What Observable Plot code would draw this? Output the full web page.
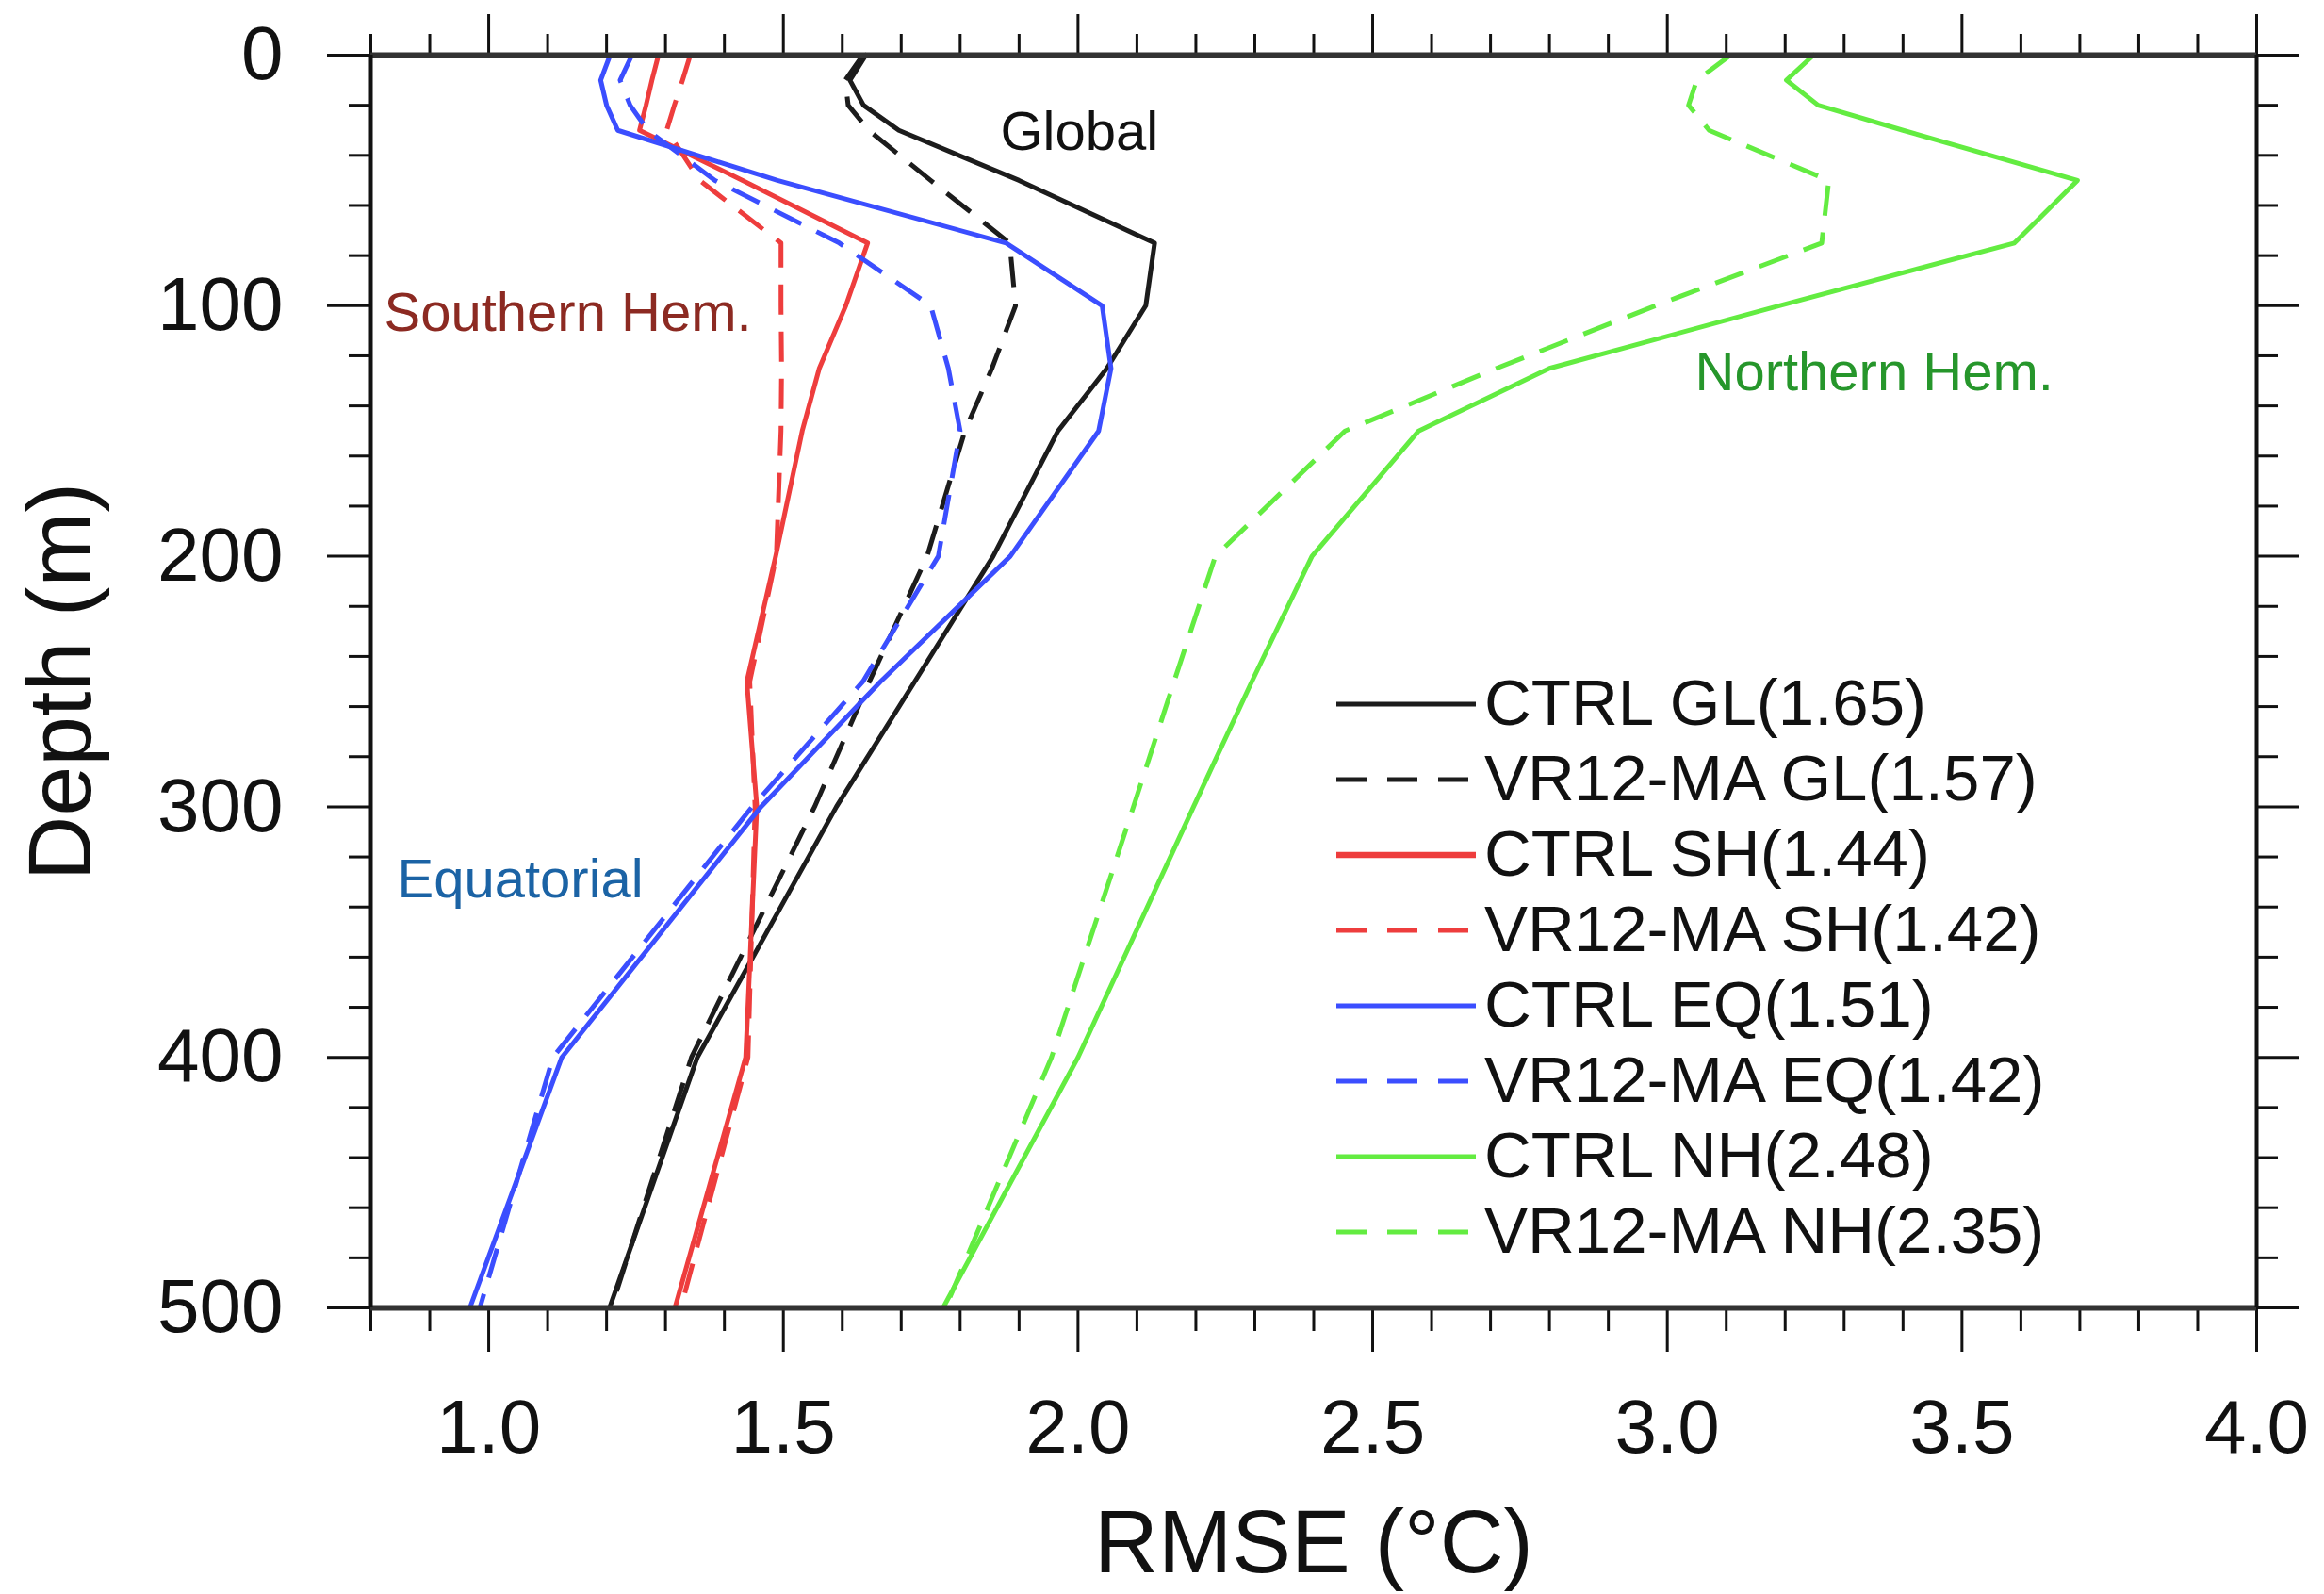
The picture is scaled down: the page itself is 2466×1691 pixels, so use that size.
<!DOCTYPE html>
<html>
<head>
<meta charset="utf-8">
<script src="https://cdn.jsdelivr.net/npm/d3@7"></script>
<script src="https://cdn.jsdelivr.net/npm/@observablehq/plot@0.6"></script>
<style>
  html, body { margin: 0; padding: 0; background: #ffffff; }
  #chart svg { display: block; }
</style>
</head>
<body>
<div id="chart"></div>
<script>
// ---------------- data ----------------
const depths = [0, 10, 20, 30, 50, 75, 100, 125, 150, 200, 250, 300, 400, 500];

const ctrlGL = [1.640, 1.613, 1.636, 1.696, 1.900, 2.130, 2.115, 2.049, 1.966, 1.856, 1.723, 1.590, 1.354, 1.205];
const vrGL   = [1.635, 1.605, 1.610, 1.645, 1.750, 1.884, 1.894, 1.854, 1.808, 1.744, 1.646, 1.553, 1.344, 1.208];
const ctrlSH = [1.288, 1.277, 1.267, 1.256, 1.431, 1.643, 1.606, 1.561, 1.532, 1.487, 1.438, 1.455, 1.436, 1.316];
const vrSH   = [1.342, 1.329, 1.315, 1.302, 1.358, 1.496, 1.496, 1.497, 1.496, 1.488, 1.443, 1.452, 1.440, 1.326];
const ctrlEQ = [1.206, 1.190, 1.200, 1.219, 1.490, 1.878, 2.041, 2.056, 2.035, 1.885, 1.665, 1.462, 1.124, 0.968];
const vrEQ   = [1.243, 1.223, 1.240, 1.270, 1.384, 1.595, 1.750, 1.780, 1.800, 1.763, 1.635, 1.447, 1.109, 0.985];
const ctrlNH = [3.248, 3.202, 3.256, 3.400, 3.696, 3.589, 3.190, 2.800, 2.578, 2.397, 2.295, 2.196, 2.000, 1.771];
const vrNH   = [3.107, 3.050, 3.036, 3.071, 3.274, 3.262, 2.980, 2.710, 2.453, 2.233, 2.163, 2.094, 1.955, 1.775];

const seriesNames = [
  "CTRL GL(1.65)", "VR12-MA GL(1.57)",
  "CTRL SH(1.44)", "VR12-MA SH(1.42)",
  "CTRL EQ(1.51)", "VR12-MA EQ(1.42)",
  "CTRL NH(2.48)", "VR12-MA NH(2.35)"
];
const seriesValues = [ctrlGL, vrGL, ctrlSH, vrSH, ctrlEQ, vrEQ, ctrlNH, vrNH];

const xTickValues = [1.0, 1.5, 2.0, 2.5, 3.0, 3.5, 4.0];
const xTickLabels = ["1.0", "1.5", "2.0", "2.5", "3.0", "3.5", "4.0"];
const yTickValues = [0, 100, 200, 300, 400, 500];
const yTickLabels = ["0", "100", "200", "300", "400", "500"];

const regionLabels = ["Global", "Southern Hem.", "Equatorial", "Northern Hem."];

// ---------------- styles / layout ----------------
const BLACK = "#1c1c1c", RED = "#ee3d3d", BLUE = "#3b4eff", GREEN = "#63ec41";
const DASH = "32,18";
const seriesStyles = [
  {stroke: BLACK, dash: null}, {stroke: BLACK, dash: DASH},
  {stroke: RED,   dash: null}, {stroke: RED,   dash: DASH},
  {stroke: BLUE,  dash: null}, {stroke: BLUE,  dash: DASH},
  {stroke: GREEN, dash: null}, {stroke: GREEN, dash: DASH}
];
const regionStyles = [
  {fill: "#111111", dx: 668, dy: 100},
  {fill: "#8c2a22", dx: 14,  dy: 292},
  {fill: "#1b63a5", dx: 28,  dy: 893},
  {fill: "#26962b", dx: 1405, dy: 355}
];
const FONT = "'Liberation Sans', Arial, Helvetica, sans-serif";

const W = 2466, H = 1691;
const mL = 393, mR = 72, mT = 58, mB = 304;

// minor tick positions (every 0.1 on x, every 20 m on y)
const xMinor = d3.range(8, 41).map(d => d / 10).filter(v => !xTickValues.some(t => Math.abs(t - v) < 1e-9));
const yMinor = d3.range(0, 501, 20).filter(v => v % 100 !== 0);

// long table
const rows = seriesValues.flatMap((vals, i) =>
  depths.map((d, j) => ({series: seriesNames[i], idx: i, depth: d, rmse: vals[j]}))
);

const lineMarks = seriesValues.map((_, i) =>
  Plot.line(rows.filter(r => r.idx === i), {
    x: "rmse", y: "depth",
    stroke: seriesStyles[i].stroke,
    strokeWidth: 5,
    strokeDasharray: seriesStyles[i].dash || undefined,
    strokeLinecap: seriesStyles[i].dash ? "butt" : "round",
    strokeLinejoin: "round"
  })
);

const xLabelOf = v => xTickLabels[xTickValues.findIndex(t => Math.abs(t - v) < 1e-9)];
const yLabelOf = v => yTickLabels[yTickValues.indexOf(v)];

const plot = Plot.plot({
  width: W, height: H,
  marginLeft: mL, marginRight: mR, marginTop: mT, marginBottom: mB,
  style: {fontFamily: FONT, background: "#ffffff", color: "#111111", fontSize: "80px"},
  x: {domain: [0.8, 4.0]},
  y: {domain: [0, 500], reverse: true},
  marks: [
    // ticks: bottom
    Plot.axisX(xTickValues, {anchor: "bottom", tickSize: 47, tickPadding: 50, fontSize: 80, strokeWidth: 3, tickFormat: xLabelOf, label: null}),
    Plot.axisX(xMinor, {anchor: "bottom", tickSize: 25, strokeWidth: 3, tickFormat: () => "", label: null}),
    // ticks: top
    Plot.axisX(xTickValues, {anchor: "top", tickSize: 44, strokeWidth: 3, tickFormat: () => "", label: null}),
    Plot.axisX(xMinor, {anchor: "top", tickSize: 23, strokeWidth: 3, tickFormat: () => "", label: null}),
    // ticks: left
    Plot.axisY(yTickValues, {anchor: "left", tickSize: 46, tickPadding: 47, fontSize: 80, strokeWidth: 3, tickFormat: yLabelOf, label: null}),
    Plot.axisY(yMinor, {anchor: "left", tickSize: 23, strokeWidth: 3, tickFormat: () => "", label: null}),
    // ticks: right
    Plot.axisY(yTickValues, {anchor: "right", tickSize: 45, strokeWidth: 3, tickFormat: () => "", label: null}),
    Plot.axisY(yMinor, {anchor: "right", tickSize: 22, strokeWidth: 3, tickFormat: () => "", label: null}),
    // data
    ...lineMarks,
    // frame
    Plot.ruleY([0, 500], {stroke: "#333333", strokeWidth: 6}),
    Plot.ruleX([0.8, 4.0], {stroke: "#111111", strokeWidth: 4}),
    // region labels
    ...regionLabels.map((t, i) => Plot.text([t], {
      text: d => d, frameAnchor: "top-left", dx: regionStyles[i].dx, dy: regionStyles[i].dy,
      textAnchor: "start", lineAnchor: "bottom", fontSize: 58, fill: regionStyles[i].fill
    })),
    // axis titles
    Plot.text(["RMSE (°C)"], {text: d => d, frameAnchor: "bottom", dy: 280, textAnchor: "middle", lineAnchor: "bottom", fontSize: 94, fill: "#111111"}),
    Plot.text(["Depth (m)"], {text: d => d, frameAnchor: "left", dx: -298, rotate: -90, textAnchor: "middle", lineAnchor: "bottom", fontSize: 95, fill: "#111111"})
  ]
});

document.getElementById("chart").appendChild(plot);

// ---------------- legend ----------------
const svg = d3.select(plot.tagName.toLowerCase() === "svg" ? plot : plot.querySelector("svg"));
const lg = svg.append("g")
  .attr("font-family", FONT).attr("font-size", 69)
  .attr("fill", "#111111").attr("text-anchor", "start");
seriesNames.forEach((name, i) => {
  const yc = 747 + i * 80;
  const st = seriesStyles[i];
  lg.append("line")
    .attr("x1", 1418).attr("x2", st.dash ? 1558 : 1566)
    .attr("y1", yc).attr("y2", yc)
    .attr("stroke", st.stroke)
    .attr("stroke-width", i === 2 ? 6.5 : 5)
    .attr("stroke-dasharray", st.dash ? "32,22" : null);
  lg.append("text")
    .attr("x", 1575).attr("y", 769 + i * 80)
    .attr("text-anchor", "start")
    .text(name);
});
</script>
</body>
</html>
